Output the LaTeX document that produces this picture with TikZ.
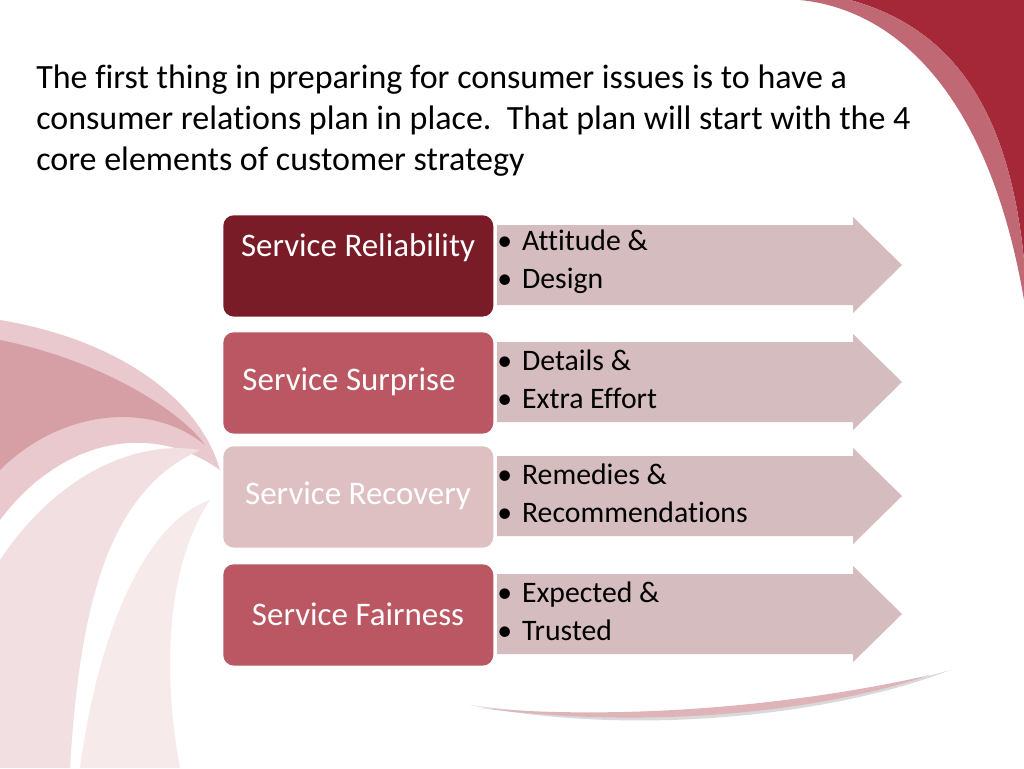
\documentclass[tikz,border=0pt]{standalone}
\usepackage{fontspec}
\setmainfont[Ligatures={NoCommon}]{Carlito}
\begin{document}
\begin{tikzpicture}[x=0.75pt,y=-0.75pt,
  lbl/.style={rounded corners=8pt,minimum width=202.5pt,minimum height=76pt,anchor=north west,inner sep=0pt},
  ltxt/.style={font=\fontsize{24.7}{29}\selectfont,inner sep=0pt},
  btxt/.style={anchor=west,font=\fontsize{22.3}{28.8}\selectfont,align=left,inner sep=0pt}]
\definecolor{arrowc}{HTML}{D5BCBF}
\definecolor{darkr}{HTML}{7A1C28}
\definecolor{midr}{HTML}{BA5762}
\definecolor{lightr}{HTML}{DEC0C3}
\definecolor{swirl}{HTML}{A52838}
\useasboundingbox (0,0) rectangle (1024,768);
\fill[white] (0,0) rectangle (1024,768);
% top-right swirl
\fill[swirl] (850,0) .. controls (960,30) and (1010,120) .. (1024,260) -- (1024,0) -- cycle;
\fill[swirl!70] (800,0) .. controls (900,10) and (990,100) .. (1024,300) -- (1024,260) .. controls (1010,120) and (960,30) .. (850,0) -- cycle;
% left swirl
\fill[swirl!25] (0,320) .. controls (120,340) and (200,400) .. (220,470) .. controls (150,420) and (60,440) .. (0,520) -- cycle;
\fill[swirl!45] (0,340) .. controls (100,360) and (180,410) .. (205,445) .. controls (150,400) and (60,410) .. (0,470) -- cycle;
\fill[swirl!15] (0,560) .. controls (60,470) and (140,440) .. (200,450) .. controls (110,490) and (80,600) .. (70,768) -- (0,768) -- cycle;
\fill[swirl!10] (80,768) .. controls (100,620) and (150,520) .. (210,500) .. controls (170,560) and (160,660) .. (180,768) -- cycle;
% bottom swoosh
\fill[gray!30] (470,705) .. controls (650,730) and (850,700) .. (950,670) .. controls (850,710) and (650,740) .. (470,705) -- cycle;
\fill[swirl!35] (480,708) .. controls (650,722) and (820,700) .. (930,675) .. controls (820,712) and (650,730) .. (480,708) -- cycle;
% title
\node[anchor=north west,align=left,inner sep=0pt,font=\fontsize{25.5}{30.75}\selectfont] (title) at (36,65)
{The first thing in preparing for consumer issues is to have a\\consumer relations plan in place.\ \ That plan will start with the 4\\core elements of customer strategy};
% rows
\foreach \n/\y/\c/\lab/\lx/\ly/\ta/\tb in {
 1/215/darkr/Service Reliability/358/248/Attitude \&/Design,
 2/332/midr/Service Surprise/349/382/Details \&/Extra Effort,
 3/446/lightr/Service Recovery/358/496/Remedies \&/Recommendations,
 4/564/midr/Service Fairness/358/614/Expected \&/Trusted}{
 \fill[arrowc] (497,\y+10) -- (853,\y+10) -- (853,\y+2) -- (902,\y+50) -- (853,\y+98) -- (853,\y+90) -- (497,\y+90) -- cycle;
 \node[lbl,fill=\c] (box\n) at (223,\y) {};
 \node[ltxt,text=white] (lab\n) at (\lx,\ly) {\lab};
 \node[btxt] (txt\n) at (497,\y+47) {\textbullet\hspace{7.5pt}\ta\\\textbullet\hspace{7.5pt}\tb};
}
\end{tikzpicture}
\end{document}
